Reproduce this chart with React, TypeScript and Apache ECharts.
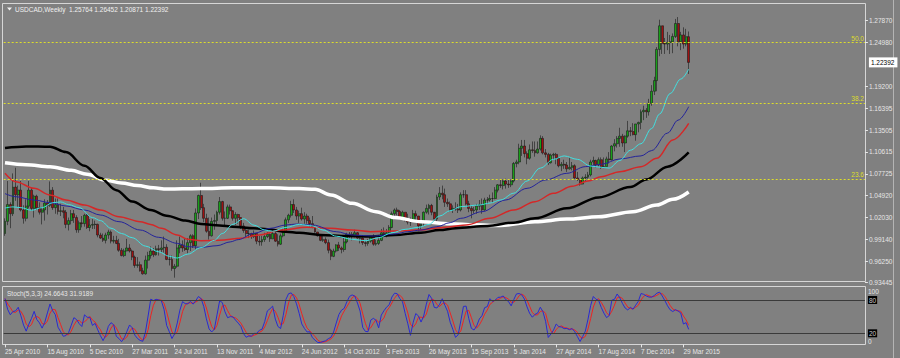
import React, { useEffect, useRef } from 'react';
import * as echarts from 'echarts';

// ---------- data ----------
const chartTitle = 'USDCAD,Weekly  1.25764 1.26452 1.20871 1.22392';
const stochTitle = 'Stoch(5,3,3) 24.6643 31.9189';
const firstOpen = 0.999;

const closes = [
  1.0150,1.0370,1.0250,1.0600,1.0500,1.0560,1.0300,1.0190,1.0350,1.0560,
  1.0320,1.0480,1.0330,1.0270,1.0300,1.0390,1.0360,1.0560,1.0330,1.0370,
  1.0280,1.0290,1.0270,1.0110,1.0160,1.0250,1.0200,1.0040,1.0130,1.0120,
  1.0230,1.0070,1.0100,1.0110,1.0110,0.9970,0.9930,0.9900,0.9970,1.0010,
  0.9890,0.9900,0.9860,0.9770,0.9700,0.9760,0.9800,0.9760,0.9680,0.9570,
  0.9580,0.9500,0.9460,0.9640,0.9700,0.9760,0.9710,0.9790,0.9780,0.9800,
  0.9810,0.9650,0.9650,0.9530,0.9560,0.9800,0.9840,0.9800,0.9780,0.9870,
  0.9960,0.9830,1.0260,1.0490,1.0330,1.0190,1.0020,0.9960,1.0150,1.0160,
  1.0270,1.0410,1.0190,1.0190,1.0340,1.0290,1.0190,1.0240,1.0200,1.0090,
  1.0030,0.9990,0.9990,0.9950,0.9990,0.9890,0.9880,0.9910,0.9950,0.9980,
  0.9920,0.9990,0.9890,0.9850,0.9960,1.0010,1.0170,1.0230,1.0370,1.0300,
  1.0220,1.0250,1.0180,1.0220,1.0160,1.0120,1.0070,1.0010,0.9960,0.9900,
  0.9910,0.9870,0.9770,0.9690,0.9760,0.9840,0.9800,0.9780,0.9880,0.9980,
  0.9980,0.9970,1.0000,0.9930,0.9930,0.9870,0.9860,0.9890,0.9950,0.9850,
  0.9860,0.9900,1.0000,0.9960,1.0000,1.0070,1.0250,1.0300,1.0280,1.0200,
  1.0270,1.0160,1.0140,1.0150,1.0250,1.0220,1.0090,1.0130,1.0270,1.0320,
  1.0360,1.0270,1.0180,1.0470,1.0520,1.0500,1.0400,1.0380,1.0300,1.0320,
  1.0310,1.0300,1.0500,1.0500,1.0380,1.0320,1.0290,1.0300,1.0350,1.0370,
  1.0300,1.0430,1.0430,1.0450,1.0450,1.0560,1.0630,1.0620,1.0680,1.0640,
  1.0630,1.0680,1.0910,1.0930,1.1110,1.1140,1.1040,1.0980,1.1090,1.1080,
  1.1050,1.1100,1.1240,1.1050,1.1030,1.0920,1.1020,1.1030,1.0980,1.0880,
  1.0900,1.0890,1.0840,1.0860,1.0880,1.0720,1.0700,1.0640,1.0720,1.0730,
  1.0760,1.0930,1.0950,1.0890,1.0960,1.0860,1.0870,1.0970,1.0960,1.1140,
  1.1170,1.1240,1.1270,1.1180,1.1270,1.1340,1.1330,1.1290,1.1430,1.1450,
  1.1590,1.1610,1.1590,1.1700,1.1860,1.2000,1.2410,1.2720,1.2490,1.2480,
  1.2500,1.2510,1.2580,1.2750,1.2510,1.2600,1.2480,1.25764,1.22392
];

const highs = [
  1.0190,1.0680,1.0400,1.0780,1.0855,1.0620,1.0680,1.0360,1.0440,1.0680,
  1.0600,1.0500,1.0500,1.0400,1.0340,1.0440,1.0430,1.0675,1.0600,1.0450,
  1.0450,1.0380,1.0340,1.0300,1.0200,1.0300,1.0300,1.0230,1.0160,1.0220,
  1.0250,1.0260,1.0180,1.0180,1.0160,1.0120,1.0000,0.9990,1.0000,1.0040,
  1.0030,0.9960,0.9960,0.9920,0.9800,0.9790,0.9920,0.9850,0.9780,0.9700,
  0.9680,0.9620,0.9540,0.9700,0.9750,0.9820,0.9800,0.9830,0.9840,0.9900,
  0.9950,0.9850,0.9700,0.9700,0.9590,0.9900,0.9950,0.9900,0.9930,0.9930,
  0.9980,0.9980,1.0320,1.0500,1.0657,1.0380,1.0250,1.0200,1.0200,1.0240,
  1.0290,1.0470,1.0420,1.0280,1.0370,1.0370,1.0280,1.0270,1.0250,1.0200,
  1.0130,1.0060,1.0040,1.0000,1.0030,0.9990,0.9960,0.9960,1.0000,1.0010,
  0.9990,1.0050,1.0020,0.9980,0.9990,1.0050,1.0200,1.0250,1.0420,1.0440,
  1.0340,1.0290,1.0330,1.0270,1.0250,1.0200,1.0220,1.0100,1.0010,0.9980,
  0.9960,0.9940,0.9910,0.9790,0.9790,0.9850,0.9880,0.9820,0.9940,1.0000,
  1.0010,1.0010,1.0040,1.0010,0.9960,0.9940,0.9890,0.9920,0.9960,0.9980,
  0.9910,0.9930,1.0050,1.0070,1.0050,1.0100,1.0280,1.0320,1.0330,1.0300,
  1.0290,1.0270,1.0250,1.0200,1.0300,1.0290,1.0220,1.0160,1.0280,1.0370,
  1.0380,1.0380,1.0250,1.0500,1.0600,1.0620,1.0580,1.0450,1.0410,1.0360,
  1.0400,1.0380,1.0530,1.0560,1.0560,1.0420,1.0350,1.0340,1.0380,1.0430,
  1.0450,1.0460,1.0470,1.0500,1.0530,1.0600,1.0640,1.0700,1.0700,1.0710,
  1.0700,1.0700,1.0930,1.0960,1.1170,1.1220,1.1220,1.1070,1.1160,1.1200,
  1.1200,1.1200,1.1280,1.1270,1.1100,1.1050,1.1040,1.1050,1.1050,1.0990,
  1.0930,1.0960,1.0930,1.0990,1.0930,1.0900,1.0800,1.0700,1.0740,1.0770,
  1.0800,1.0960,1.1000,1.0960,1.0990,1.0990,1.0990,1.1000,1.1060,1.1150,
  1.1230,1.1270,1.1380,1.1300,1.1280,1.1470,1.1390,1.1440,1.1430,1.1460,
  1.1620,1.1670,1.1640,1.1760,1.1940,1.2050,1.2440,1.2800,1.2720,1.2560,
  1.2640,1.2600,1.2620,1.2810,1.2835,1.2640,1.2700,1.2680,1.26452
];

const lows = [
  0.9960,1.0100,1.0060,1.0220,1.0420,1.0340,1.0280,1.0120,1.0150,1.0320,
  1.0290,1.0200,1.0300,1.0240,1.0110,1.0160,1.0240,1.0340,1.0300,1.0250,
  1.0240,1.0220,1.0190,1.0060,1.0030,1.0110,1.0130,1.0000,1.0000,1.0070,
  1.0080,1.0050,1.0020,1.0050,1.0050,0.9940,0.9920,0.9880,0.9860,0.9920,
  0.9860,0.9860,0.9850,0.9750,0.9690,0.9680,0.9760,0.9740,0.9640,0.9540,
  0.9540,0.9490,0.9450,0.9450,0.9530,0.9660,0.9680,0.9700,0.9700,0.9740,
  0.9740,0.9640,0.9570,0.9500,0.9410,0.9540,0.9730,0.9750,0.9760,0.9730,
  0.9760,0.9800,0.9780,1.0180,1.0300,1.0140,1.0000,0.9910,0.9950,1.0040,
  1.0090,1.0240,1.0160,1.0100,1.0180,1.0240,1.0160,1.0100,1.0120,1.0050,
  1.0000,0.9940,0.9930,0.9920,0.9930,0.9850,0.9830,0.9830,0.9880,0.9930,
  0.9880,0.9920,0.9880,0.9820,0.9840,0.9940,1.0000,1.0130,1.0200,1.0260,
  1.0170,1.0130,1.0160,1.0120,1.0120,1.0080,1.0060,1.0000,0.9950,0.9890,
  0.9880,0.9850,0.9730,0.9640,0.9680,0.9740,0.9760,0.9730,0.9750,0.9860,
  0.9930,0.9900,0.9940,0.9920,0.9860,0.9840,0.9820,0.9830,0.9870,0.9830,
  0.9830,0.9840,0.9890,0.9940,0.9940,0.9960,1.0060,1.0220,1.0230,1.0180,
  1.0170,1.0150,1.0110,1.0090,1.0140,1.0140,1.0020,1.0040,1.0090,1.0250,
  1.0240,1.0230,1.0150,1.0140,1.0430,1.0440,1.0340,1.0340,1.0280,1.0260,
  1.0290,1.0260,1.0280,1.0460,1.0360,1.0270,1.0190,1.0250,1.0250,1.0300,
  1.0250,1.0290,1.0380,1.0410,1.0400,1.0440,1.0530,1.0590,1.0570,1.0580,
  1.0590,1.0600,1.0660,1.0860,1.0900,1.1010,1.0990,1.0900,1.0960,1.1050,
  1.1000,1.1040,1.1080,1.1030,1.0990,1.0890,1.0910,1.0960,1.0900,1.0860,
  1.0810,1.0840,1.0800,1.0830,1.0820,1.0710,1.0680,1.0620,1.0640,1.0680,
  1.0710,1.0740,1.0890,1.0860,1.0870,1.0840,1.0850,1.0870,1.0910,1.0950,
  1.1070,1.1120,1.1130,1.1130,1.1060,1.1250,1.1270,1.1280,1.1210,1.1320,
  1.1360,1.1480,1.1510,1.1540,1.1670,1.1810,1.1860,1.2320,1.2350,1.2350,
  1.2400,1.2350,1.2360,1.2560,1.2450,1.2400,1.2420,1.2450,1.20871
];

// moving averages read as [bar index, price] points
const maCyan = [
  [0,1.0325],[3,1.0340],[6,1.0330],[10,1.0295],[14,1.0330],[18,1.0395],[21,1.0405],[24,1.0370],
  [28,1.0330],[33,1.0200],[36,1.0160],[40,1.0060],[44,0.9990],[48,0.9935],[53,0.9825],[58,0.9750],
  [62,0.9690],[65,0.9668],[69,0.9720],[74,0.9805],[79,0.9900],[82,0.9990],[86,1.0110],[90,1.0185],
  [94,1.0100],[98,1.0036],[101,1.0020],[106,1.0070],[111,1.0110],[116,1.0090],[120,1.0036],[125,0.9955],
  [131,0.9914],[136,0.9895],[141,0.9935],[146,1.0000],[151,1.0045],[156,1.0071],[160,1.0110],[164,1.0220],
  [168,1.0290],[172,1.0343],[179,1.0365],[183,1.0390],[187,1.0431],[192,1.0520],[197,1.0680],[202,1.0850],
  [207,1.0965],[211,1.1010],[216,1.0965],[221,1.0877],[225,1.0860],[228,1.0850],[232,1.0950],[236,1.1085],
  [240,1.1170],[244,1.1370],[247,1.1560],[251,1.1830],[255,1.2020],[258,1.2150]
];
const maBlue = [
  [0,1.0515],[4,1.0474],[11,1.0430],[17,1.0396],[23,1.0352],[30,1.0299],[36,1.0233],[43,1.0146],
  [51,1.0036],[58,0.9940],[65,0.9861],[69,0.9817],[74,0.9808],[80,0.9830],[85,0.9880],[88,0.9910],
  [94,0.9993],[100,1.0058],[106,1.0102],[110,1.0115],[116,1.0102],[125,1.0014],[131,0.9971],[139,0.9957],
  [147,0.9984],[152,1.0014],[157,1.0036],[163,1.0080],[168,1.0133],[172,1.0190],[180,1.0277],[189,1.0431],
  [197,1.0584],[204,1.0694],[212,1.0781],[219,1.0869],[225,1.0900],[232,1.0970],[240,1.1010],[244,1.1080],
  [250,1.1310],[254,1.1480],[258,1.1657]
];
const maRed = [
  [0,1.0781],[4,1.0672],[11,1.0584],[17,1.0496],[23,1.0431],[30,1.0365],[36,1.0299],[43,1.0212],
  [51,1.0146],[55,1.0110],[59,1.0058],[65,0.9971],[69,0.9914],[74,0.9896],[81,0.9900],[89,0.9927],
  [96,0.9971],[104,1.0036],[114,1.0071],[123,1.0058],[131,1.0036],[138,1.0014],[147,1.0023],[157,1.0036],
  [164,1.0067],[168,1.0080],[174,1.0102],[183,1.0190],[192,1.0299],[200,1.0409],[207,1.0518],[214,1.0610],
  [220,1.0680],[225,1.0737],[232,1.0803],[240,1.0868],[246,1.0979],[252,1.1219],[258,1.1439]
];
const maBlack = [
  [0,1.1115],[8,1.1135],[17,1.1130],[23,1.1060],[30,1.0880],[36,1.0720],[42,1.0560],[48,1.0410],
  [55,1.0300],[61,1.0225],[68,1.0160],[74,1.0115],[81,1.0095],[86,1.0080],[94,1.0058],[99,1.0045],
  [106,1.0014],[111,1.0000],[119,0.9972],[129,0.9957],[138,0.9950],[147,0.9970],[157,1.0001],[164,1.0035],
  [170,1.0060],[182,1.0089],[192,1.0133],[200,1.0190],[212,1.0322],[224,1.0465],[236,1.0600],[242,1.0700],
  [250,1.0869],[258,1.1055]
];
const maWhite = [
  [0,1.0921],[8,1.0895],[17,1.0868],[25,1.0820],[31,1.0770],[38,1.0690],[44,1.0655],[50,1.0620],
  [56,1.0590],[61,1.0575],[67,1.0578],[74,1.0582],[86,1.0590],[100,1.0590],[111,1.0582],[117,1.0571],
  [123,1.0497],[131,1.0387],[140,1.0277],[147,1.0200],[157,1.0146],[168,1.0120],[177,1.0105],[187,1.0095],
  [200,1.0145],[212,1.0180],[224,1.0211],[237,1.0277],[246,1.0365],[252,1.0440],[258,1.0536]
];

const dateLabels = [
  '25 Apr 2010','15 Aug 2010','5 Dec 2010','27 Mar 2011','24 Jul 2011','13 Nov 2011','4 Mar 2012',
  '24 Jun 2012','14 Oct 2012','3 Feb 2013','26 May 2013','15 Sep 2013','5 Jan 2014','27 Apr 2014',
  '17 Aug 2014','7 Dec 2014','29 Mar 2015'
];
const dateLabelStep = 16;
const priceTicks = [1.2787,1.2498,1.192,1.16395,1.13505,1.10615,1.07725,1.0492,1.0203,0.9914,0.9625,0.93445];
const currentPrice = 1.22392;
const fiboLevels = [1.2543, 1.1709, 1.069];
const fiboNames = ['50.0', '38.2', '23.6'];
const stochParams = [5, 3, 3];
const stochLevels = [20, 80];
const stochScale = [0, 20, 80, 100];

// ---------- layout ----------
const BAR_W = 2.65;
const SLOTS = 325;
const GRID_LEFT = 5 - BAR_W / 2;
const MAIN_TOP = 3.5;
const MAIN_BOTTOM = 284;
const PRICE_MIN = 0.932662;
const PRICE_MAX = 1.301305;
const ST_TOP = 288.9;
const ST_BOTTOM = 344.4;
const FONT = '"Liberation Sans", Arial, sans-serif';
const TXT = '#e6e6e6';

function stochastic(h: number[], l: number[], c: number[], kP: number, slow: number, dP: number) {
  const n = c.length;
  const lo: number[] = [], hi: number[] = [], k: number[] = [], d: number[] = [];
  for (let i = 0; i < n; i++) {
    const s = Math.max(0, i - kP + 1);
    lo[i] = Math.min(...l.slice(s, i + 1));
    hi[i] = Math.max(...h.slice(s, i + 1));
  }
  for (let i = 0; i < n; i++) {
    const s = Math.max(0, i - slow + 1);
    let num = 0, den = 0;
    for (let j = s; j <= i; j++) { num += c[j] - lo[j]; den += hi[j] - lo[j]; }
    k[i] = den > 0 ? (100 * num) / den : 50;
  }
  for (let i = 0; i < n; i++) {
    const s = Math.max(0, i - dP + 1);
    let sum = 0;
    for (let j = s; j <= i; j++) sum += k[j];
    d[i] = sum / (i - s + 1);
  }
  return { k, d };
}

export default function App() {
  const ref = useRef<HTMLDivElement>(null);
  useEffect(() => {
    if (!ref.current) return;
    const chart = echarts.init(ref.current, undefined, { renderer: 'svg' });
    const opens = closes.map((c, i) => (i === 0 ? firstOpen : closes[i - 1]));
    const candles = closes.map((c, i) => [opens[i], c, lows[i], highs[i]]);
    const slots = Array.from({ length: SLOTS }, (_, i) => String(i));
    const st = stochastic(highs, lows, closes, stochParams[0], stochParams[1], stochParams[2]);
    const showDate = (i: number) => i % dateLabelStep === 0 && i / dateLabelStep < dateLabels.length;
    const maLine = (data: number[][], color: string, width: number) => ({
      type: 'line', xAxisIndex: 0, yAxisIndex: 0, data, showSymbol: false, symbol: 'none',
      smooth: 0.35, smoothMonotone: 'x', silent: true,
      lineStyle: { color, width }, z: 3
    });

    chart.setOption({
      animation: false,
      backgroundColor: '#808080',
      grid: [
        { left: GRID_LEFT, top: MAIN_TOP, width: SLOTS * BAR_W, height: MAIN_BOTTOM - MAIN_TOP, outerBoundsMode: 'none' },
        { left: GRID_LEFT, top: ST_TOP, width: SLOTS * BAR_W, height: ST_BOTTOM - ST_TOP, outerBoundsMode: 'none' }
      ],
      xAxis: [
        {
          type: 'category', gridIndex: 0, data: slots, boundaryGap: true,
          axisLine: { show: false }, axisTick: { show: false }, axisLabel: { show: false }, splitLine: { show: false }
        },
        {
          type: 'category', gridIndex: 1, data: slots, boundaryGap: true,
          axisLine: { show: false },
          axisTick: { show: true, interval: (i: number) => showDate(i), alignWithLabel: true, length: 3, lineStyle: { color: TXT } },
          axisLabel: {
            interval: (i: number) => showDate(i),
            formatter: (_v: string, i: number) => dateLabels[i / dateLabelStep] || '',
            align: 'left', color: TXT, fontSize: 6.5, fontFamily: FONT, margin: 4
          },
          splitLine: { show: false }
        }
      ],
      yAxis: [
        {
          type: 'value', gridIndex: 0, position: 'right', min: PRICE_MIN, max: PRICE_MAX,
          splitLine: { show: false }, axisLine: { show: false },
          axisTick: { show: true, length: 3, customValues: priceTicks, lineStyle: { color: TXT } },
          axisLabel: {
            customValues: [...priceTicks, currentPrice],
            formatter: (v: number) => Math.abs(v - currentPrice) < 1e-7 ? `{cur|${v.toFixed(5)}}` : v.toFixed(5),
            color: TXT, fontSize: 6.5, fontFamily: FONT, margin: 4,
            rich: { cur: { backgroundColor: '#ffffff', color: '#000000', fontSize: 6.5, fontFamily: FONT, padding: [2, 3, 1, 2] } }
          }
        },
        {
          type: 'value', gridIndex: 1, position: 'right', min: 0, max: 100,
          splitLine: { show: false }, axisLine: { show: false }, axisTick: { show: false },
          axisLabel: {
            customValues: stochScale,
            formatter: (v: number) => {
              if (v === 100) return '{top|100}';
              if (v === 0) return '{bot|0}';
              return `{box|${v}}`;
            },
            color: TXT, fontSize: 6.5, fontFamily: FONT, margin: 3,
            rich: {
              top: { color: TXT, fontSize: 6.5, fontFamily: FONT, padding: [6, 0, 0, 0] },
              bot: { color: TXT, fontSize: 6.5, fontFamily: FONT, padding: [0, 0, 6, 0] },
              box: { color: '#c8c8c8', backgroundColor: '#000000', fontSize: 6.5, fontFamily: FONT, padding: [1, 1, 0, 1] }
            }
          }
        }
      ],
      series: [
        {
          type: 'candlestick', xAxisIndex: 0, yAxisIndex: 0, data: candles, barWidth: 2.4, z: 2,
          itemStyle: {
            color: '#18a018', color0: '#a01010', borderColor: '#1a1a1a', borderColor0: '#1a1a1a',
            borderColorDoji: '#1a1a1a', borderWidth: 0.6
          },
          markLine: {
            silent: true, symbol: ['none', 'none'], animation: false,
            lineStyle: { color: '#dede2a', type: [2, 2], width: 1 },
            label: { position: 'insideEndTop', color: '#dede2a', fontSize: 6.5, fontFamily: FONT, distance: 1 },
            data: fiboLevels.map((y, i) => ({ yAxis: y, label: { formatter: fiboNames[i] } }))
          }
        },
        maLine(maWhite, '#ffffff', 3.5),
        maLine(maBlack, '#000000', 2.5),
        maLine(maRed, '#d42828', 1.5),
        maLine(maBlue, '#24249a', 1),
        maLine(maCyan, '#40e0e0', 1),
        {
          type: 'line', xAxisIndex: 1, yAxisIndex: 1, data: st.d, showSymbol: false, symbol: 'none',
          lineStyle: { color: '#ee2222', width: 1 }, silent: true,
          markLine: {
            silent: true, symbol: ['none', 'none'], animation: false,
            lineStyle: { color: '#3a3a3a', type: 'solid', width: 1 }, label: { show: false },
            data: stochLevels.map((y) => ({ yAxis: y }))
          }
        },
        {
          type: 'line', xAxisIndex: 1, yAxisIndex: 1, data: st.k, showSymbol: false, symbol: 'none',
          lineStyle: { color: '#2a2ad0', width: 1 }, silent: true
        }
      ],
      graphic: [
        { type: 'rect', shape: { x: 2.5, y: 3.5, width: 863, height: 278 }, style: { fill: 'none', stroke: '#d6d6d6', lineWidth: 1 }, silent: true },
        { type: 'rect', shape: { x: 2.5, y: 286.5, width: 863, height: 58 }, style: { fill: 'none', stroke: '#d6d6d6', lineWidth: 1 }, silent: true },
        { type: 'line', shape: { x1: 893.5, y1: 0, x2: 893.5, y2: 358 }, style: { stroke: '#b4b4b4', lineWidth: 1 }, silent: true },
        { type: 'polygon', shape: { points: [[7, 7.5], [12, 7.5], [9.5, 10.5]] }, style: { fill: '#f0f0f0' }, silent: true },
        { type: 'text', x: 15, y: 9, style: { text: chartTitle, fill: '#f0f0f0', fontSize: 6.5, fontFamily: FONT, verticalAlign: 'middle' }, silent: true },
        { type: 'text', x: 7, y: 293, style: { text: stochTitle, fill: TXT, fontSize: 6.5, fontFamily: FONT, verticalAlign: 'middle' }, silent: true }
      ]
    });
    return () => chart.dispose();
  }, []);
  return <div ref={ref} style={{ position: 'fixed', left: 0, top: 0, width: 900, height: 358, background: '#808080' }} />;
}
